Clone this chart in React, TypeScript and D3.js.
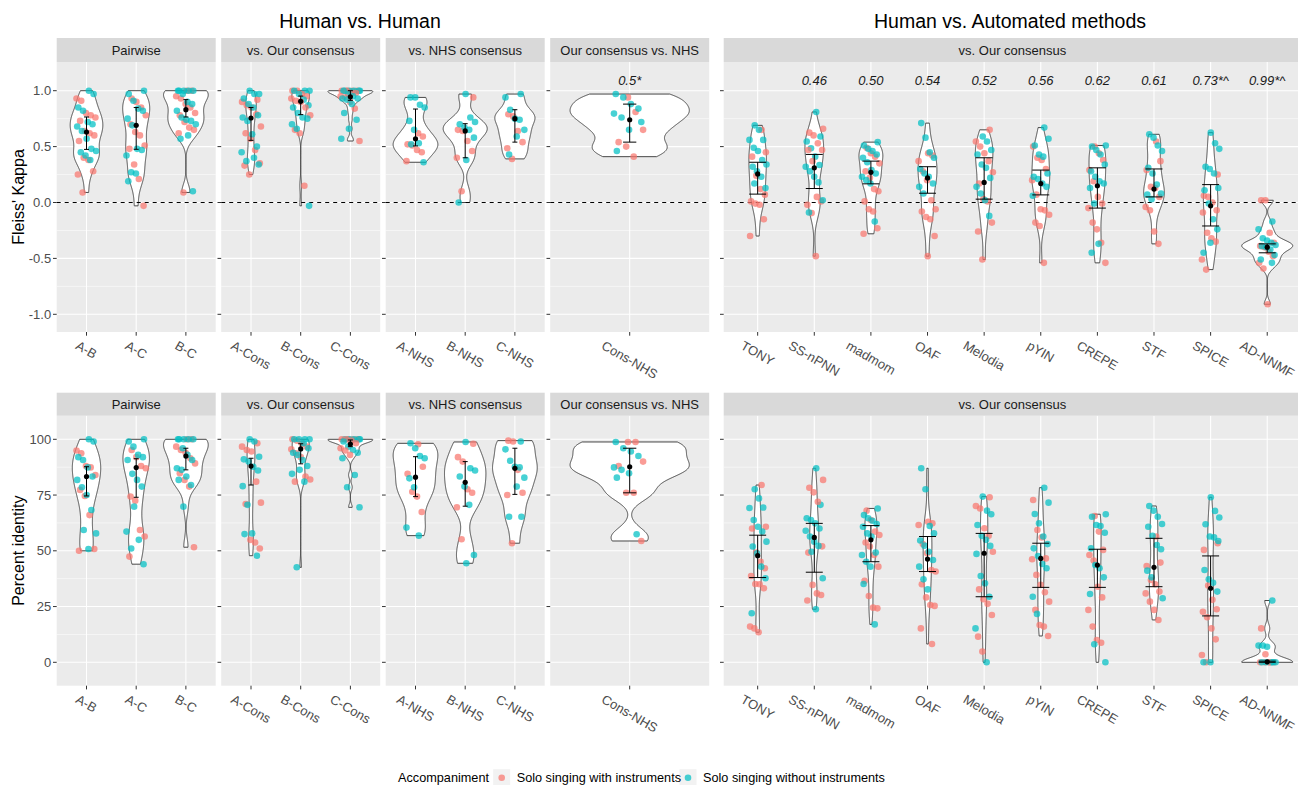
import React from "react";
import * as d3 from "d3";

const FONT = '"Liberation Sans", Arial, Helvetica, sans-serif';
const PINK = "#F8766D";
const TEAL = "#00BFC4";

// facets and their categories (in drawing order)
const facetTitles = ["Pairwise", "vs. Our consensus", "vs. NHS consensus", "Our consensus vs. NHS", "vs. Our consensus"];
const facetCats = [
  ["A-B", "A-C", "B-C"],
  ["A-Cons", "B-Cons", "C-Cons"],
  ["A-NHS", "B-NHS", "C-NHS"],
  ["Cons-NHS"],
  ["TONY", "SS-nPNN", "madmom", "OAF", "Melodia", "pYIN", "CREPE", "STF", "SPICE", "AD-NNMF"],
];
const groupTitles = ["Human vs. Human", "Human vs. Automated methods"];

// Fleiss' Kappa, solo singing with instruments (one list per category, same order as facetCats)
const kappaWith = [
  [0.93, 0.91, 0.8, 0.78, 0.76, 0.73, 0.64, 0.62, 0.6, 0.55, 0.4, 0.38, 0.28, 0.25, 0.09],
  [0.93, 0.9, 0.85, 0.78, 0.7, 0.63, 0.6, 0.51, 0.48, 0.34, 0.21, -0.03],
  [1.0, 1.0, 0.95, 0.93, 0.88, 0.85, 0.8, 0.78, 0.72, 0.67, 0.65, 0.62, 0.09],
  [0.92, 0.9, 0.87, 0.85, 0.79, 0.68, 0.62, 0.57, 0.47, 0.35, 0.33, 0.25],
  [1.0, 1.0, 0.97, 0.95, 0.93, 0.91, 0.9, 0.85, 0.78, 0.65, 0.62, 0.15],
  [1.0, 1.0, 1.0, 1.0, 1.0, 0.98, 0.98, 0.95, 0.94, 0.9, 0.84, 0.55],
  [0.62, 0.59, 0.52, 0.51, 0.47, 0.45, 0.37],
  [0.94, 0.65, 0.64, 0.55, 0.46, 0.4, 0.1],
  [0.79, 0.77, 0.64, 0.54, 0.485, 0.39],
  [0.94, 0.81, 0.65, 0.54, 0.5, 0.41],
  [0.65, 0.45, 0.41, 0.24, 0.12, 0.07, 0.01, -0.01, -0.02, -0.15, -0.3],
  [0.66, 0.625, 0.6, 0.53, 0.47, 0.47, 0.37, 0.05, 0.01, -0.02, -0.095, -0.48],
  [0.49, 0.44, 0.41, 0.35, 0.28, 0.22, 0.12, 0.1, 0.01, -0.06, -0.08, -0.23, -0.28],
  [0.44, 0.42, 0.37, 0.28, 0.2, 0.02, -0.06, -0.08, -0.13, -0.15, -0.3, -0.48],
  [0.65, 0.545, 0.5, 0.44, 0.37, 0.27, 0.17, 0.03, 0.01, -0.18, -0.26, -0.51],
  [0.5, 0.4, 0.38, 0.3, 0.2, 0.07, -0.06, -0.07, -0.11, -0.18, -0.21, -0.54],
  [0.5, 0.44, 0.38, 0.29, 0.19, 0.05, -0.01, -0.05, -0.18, -0.24, -0.36, -0.54],
  [0.545, 0.37, 0.29, 0.14, 0.13, 0.05, -0.04, -0.07, -0.26, -0.37],
  [0.25, 0.06, 0.05, 0.0, -0.07, -0.09, -0.27, -0.32, -0.35, -0.51, -0.6],
  [0.02, 0.02, -0.27, -0.36, -0.39, -0.4, -0.44, -0.48, -0.54, -0.59, -0.91],
];

// Fleiss' Kappa, solo singing without instruments
const kappaWithout = [
  [1.0, 0.97, 0.85, 0.82, 0.72, 0.7, 0.68, 0.64, 0.57, 0.48, 0.46, 0.45, 0.42, 0.38],
  [1.0, 0.97, 0.91, 0.84, 0.82, 0.75, 0.69, 0.48, 0.47, 0.42, 0.27, 0.26, 0.19],
  [1.0, 1.0, 1.0, 1.0, 1.0, 0.97, 0.9, 0.88, 0.82, 0.76, 0.74, 0.73, 0.7, 0.6, 0.57, 0.1],
  [1.0, 0.97, 0.97, 0.93, 0.88, 0.85, 0.78, 0.76, 0.73, 0.61, 0.5, 0.45, 0.4, 0.37, 0.34],
  [1.0, 1.0, 1.0, 0.97, 0.92, 0.87, 0.85, 0.8, 0.76, 0.75, 0.7, 0.66, -0.03],
  [1.0, 1.0, 1.0, 1.0, 1.0, 1.0, 0.97, 0.95, 0.93, 0.93, 0.92, 0.88, 0.8, 0.74, 0.66, 0.57],
  [0.94, 0.94, 0.875, 0.85, 0.73, 0.65, 0.53, 0.52, 0.36],
  [0.97, 0.76, 0.72, 0.7, 0.67, 0.65, 0.58, 0.38, 0.0],
  [0.97, 0.94, 0.83, 0.75, 0.74, 0.65, 0.59, 0.43],
  [0.97, 0.94, 0.88, 0.84, 0.795, 0.76, 0.72, 0.65, 0.46],
  [0.69, 0.65, 0.56, 0.56, 0.49, 0.46, 0.38, 0.34, 0.32, 0.28, 0.23, 0.17, 0.13],
  [0.81, 0.59, 0.545, 0.485, 0.41, 0.335, 0.32, 0.28, 0.23, 0.18, 0.02, -0.09],
  [0.54, 0.51, 0.48, 0.46, 0.43, 0.4, 0.36, 0.29, 0.26, 0.23, 0.2, 0.17, -0.17],
  [0.71, 0.58, 0.45, 0.4, 0.3, 0.26, 0.23, 0.17, 0.14, 0.08],
  [0.59, 0.545, 0.47, 0.43, 0.34, 0.31, 0.22, 0.14, 0.08, 0.02, -0.12],
  [0.67, 0.57, 0.51, 0.43, 0.41, 0.26, 0.23, 0.21, 0.17, 0.14, 0.06],
  [0.51, 0.5, 0.47, 0.43, 0.34, 0.28, 0.23, 0.19, 0.17, 0.13, -0.01, -0.37, -0.45],
  [0.61, 0.58, 0.51, 0.46, 0.31, 0.26, 0.16, 0.08, 0.07, 0.03],
  [0.625, 0.53, 0.48, 0.32, 0.3, 0.26, 0.13, 0.11, -0.01, -0.15, -0.24, -0.36, -0.45],
  [-0.17, -0.24, -0.32, -0.34, -0.36, -0.38, -0.39, -0.4, -0.42, -0.47, -0.51, -0.54],
];

const kappaMean = [0.63, 0.69, 0.83, 0.756, 0.905, 0.946, 0.57, 0.64, 0.75, 0.74, 0.256, 0.31, 0.27, 0.22, 0.18, 0.17, 0.15, 0.12, -0.03, -0.4];
const kappaLo = [0.475, 0.476, 0.765, 0.556, 0.786, 0.914, 0.506, 0.4, 0.54, 0.54, 0.075, 0.125, 0.167, 0.083, 0.03, 0.068, -0.05, 0.05, -0.21, -0.45];
const kappaHi = [0.765, 0.85, 0.92, 0.85, 0.952, 1.0, 0.836, 0.705, 0.83, 0.88, 0.36, 0.43, 0.37, 0.32, 0.4, 0.29, 0.31, 0.3, 0.16, -0.37];
const kappaNotes = ["", "", "", "", "", "", "", "", "", "0.5*", "", "0.46", "0.50", "0.54", "0.52", "0.56", "0.62", "0.61", "0.73*^", "0.99*^"];

// Percent identity, solo singing with instruments
const pctWith = [
  [95, 93.7, 88, 87.4, 84, 77.3, 74.6, 66, 50.8, 50],
  [95.2, 92, 88, 87, 74.3, 72.5, 59.3, 56.4, 47.4],
  [100, 100, 96.7, 95.2, 94, 91.5, 89.2, 84.8, 81.8, 78.8, 51.6],
  [98.2, 96.7, 95.2, 94.5, 81, 71.6, 71, 54.9, 53.7, 51],
  [100, 99.4, 98, 96.7, 95.5, 93.7, 92, 83.3, 82, 81],
  [100, 100, 100, 100, 100, 99.4, 98.2, 96, 95, 93],
  [97.8, 87.7, 84.5, 76.5, 74.3, 67.4],
  [98, 92, 90, 77.6, 76, 69.5, 55.2],
  [99.4, 99, 86.3, 76, 75, 53.4],
  [98.8, 98.8, 90, 88, 76, 76, 54.4],
  [79.5, 60.8, 60, 49.2, 45.1, 42.2, 38.7, 35.1, 35, 33.2, 16, 15.2, 13.5],
  [81.8, 78.3, 76.2, 72, 52, 49.2, 34.7, 30.9, 30.2, 27.7],
  [68, 63.8, 58.6, 57.1, 53.7, 51.9, 48.1, 42.9, 36.5, 29.7, 24.5, 24.2],
  [63, 62.3, 61.6, 53, 48.9, 41.4, 40.7, 35, 29.1, 25.7, 25.3, 15.2, 8.2],
  [74, 70.1, 69, 60.1, 56.7, 49.6, 32.7, 28.3, 26.2, 21.2, 11.5, 4.8],
  [72.8, 59.3, 56, 46.6, 46.2, 39.2, 34.7, 31.4, 27.2, 23.5, 16.7, 16, 11.8],
  [65.6, 58.6, 50.4, 48.1, 45.6, 33.9, 29.1, 23.5, 16, 10, 8.8],
  [56.4, 44.7, 43.2, 36.9, 35, 31.7, 30.9, 27.2, 23.5, 19],
  [53.4, 50.4, 34.4, 28, 23.8, 22.7, 20.2, 15.2, 10.3, 3.3, 0],
  [15.2, 3.6, 0, 0, 0, 0, 0],
];

// Percent identity, solo singing without instruments
const pctWithout = [
  [100, 99, 92, 90.7, 87.4, 83.3, 81.8, 78.5, 75, 68.3, 59.3, 57.8, 50.8],
  [100, 99, 96.7, 93, 92, 90.7, 84.5, 81.8, 78.8, 69.8, 58.6, 54.9, 51, 44],
  [100, 100, 100, 100, 100, 96, 93, 90.7, 87, 86.3, 83.3, 81.8, 79.5, 69.8],
  [100, 99, 92.2, 91, 90, 87.7, 86, 79, 70.6, 57.8, 57.5, 47.8],
  [100, 100, 100, 100, 98.2, 96, 94, 93, 90.7, 88, 86.3, 84.5, 81, 42.6],
  [100, 100, 100, 100, 100, 99, 96.7, 95.2, 94, 91.5, 84, 78.5, 69.5],
  [98.2, 96, 92.5, 91.5, 82.5, 78.5, 60.4, 56.8],
  [98.8, 87, 86, 83.3, 78.8, 70.6, 48.1, 44.4],
  [99, 95.5, 90.4, 87.7, 87.4, 82.8, 78.8, 65.3, 65.3],
  [98.8, 96, 94.5, 92.5, 87.4, 86.3, 84.8, 82.8, 57.4],
  [77.6, 73.5, 69.4, 69.2, 63.8, 60.8, 58.6, 54.1, 51.9, 48.9, 42.9, 37.7, 22],
  [87, 70.6, 64.6, 63.8, 62.3, 60, 59, 56.4, 54.1, 52.2, 49.6, 37.7, 23.8],
  [69, 66, 64.6, 63.5, 62, 60.8, 57.8, 56.4, 49.2, 48.1, 45.1, 42.9, 35.1, 17],
  [87, 77.6, 61.1, 57.8, 54.6, 52.3, 49.6, 45.9, 42.9, 37.2, 32.7],
  [74.3, 68, 66.4, 61.6, 56.7, 54.9, 52.2, 48.6, 38.7, 35.4, 29.4, 15.2, 0],
  [78.3, 71.6, 66.5, 62.3, 56.4, 53, 51.1, 47.7, 44.1, 42.2, 29.4, 21.7],
  [66.4, 65.3, 61.6, 61.1, 58.1, 51.1, 43.6, 42.2, 38.1, 30.6, 8.1, 0],
  [70.1, 68, 65.3, 62, 60.8, 56.7, 52.6, 50.7, 41.1, 38.1, 28.7],
  [74, 67.9, 64.9, 61.9, 56.4, 56, 54.4, 41.4, 37.2, 35.7, 31.7, 0, 0],
  [27.7, 7.5, 7.5, 7, 0, 0, 0, 0, 0],
];

const pctMean = [83.3, 87.3, 92.5, 88, 95.7, 97.9, 83, 80.7, 87, 87.7, 47.8, 56, 54.9, 46.3, 48.9, 46.6, 43.6, 42.6, 33.2, 0.2];
const pctLo = [74.6, 74, 86.3, 79.5, 89, 96.7, 74.3, 70, 75.3, 76, 38, 40.4, 45.1, 40.7, 29.4, 33.6, 33.6, 33.9, 20.8, 0];
const pctHi = [87.7, 91.3, 96, 91.5, 98, 99.7, 92.2, 90, 96, 96, 57, 62.3, 61.3, 56.4, 57.8, 53.4, 50.7, 55.6, 47.7, 0.5];
const pctNotes = facetCats.flat().map(() => "");

const kappaTicks = [-1, -0.5, 0, 0.5, 1];
const kappaMinor = [-0.75, -0.25, 0.25, 0.75];
const pctTicks = [0, 25, 50, 75, 100];
const pctMinor = [12.5, 37.5, 62.5, 87.5];

const legendTitle = "Accompaniment";
const legendLabels = ["Solo singing with instruments", "Solo singing without instruments"];

// gaussian kde with R's bw.nrd0 (scaled by adjust), trimmed to data range like geom_violin
function kde(vals: number[], adjust = 0.75) {
  const s = [...vals].sort((a, b) => a - b);
  const n = s.length;
  const sd = d3.deviation(s) || 0;
  const iqr = (d3.quantileSorted(s, 0.75) || 0) - (d3.quantileSorted(s, 0.25) || 0);
  let lo = Math.min(sd, iqr / 1.34);
  if (!lo) lo = sd || Math.abs(s[0]) || 1;
  const bw = adjust * 0.9 * lo * Math.pow(n, -0.2);
  const a = s[0], b = s[n - 1];
  const out: [number, number][] = [];
  const m = 300;
  for (let i = 0; i < m; i++) {
    const t = a + ((b - a) * i) / (m - 1);
    let sum = 0;
    for (const x of s) {
      const z = (t - x) / bw;
      sum += Math.exp(-0.5 * z * z);
    }
    out.push([t, sum / (n * bw * Math.sqrt(2 * Math.PI))]);
  }
  return out;
}

let measureCtx: CanvasRenderingContext2D | null = null;
function textW(s: string) {
  if (!measureCtx) measureCtx = document.createElement("canvas").getContext("2d");
  if (!measureCtx) return s.length * 7;
  measureCtx.font = `13px ${FONT}`;
  return measureCtx.measureText(s).width;
}

const panelX = (i: number): [number, number] => (i < 4 ? [56.7 + i * 164.5, 159] : [723.7, 577.5]);
const offsets = [0, 3, 6, 9, 10];

function Row({ row }: { row: any }) {
  const { stripTop, top, bottom, y } = row;
  const els: React.ReactNode[] = [];
  facetCats.forEach((cats, p) => {
    const [x0, w] = panelX(p);
    const x = d3.scalePoint<string>().domain(cats).range([x0, x0 + w]).padding(0.6);
    const step = x.step();
    const jit = p === 3 ? 16 : p === 4 ? 9 : 10;
    const barHalf = (p === 4 ? 0.3 : 0.1) * step / 2;
    const dens = cats.map((_, j) => kde(row.withV[offsets[p] + j].concat(row.withoutV[offsets[p] + j])));
    const maxD = d3.max(dens.flat(), (d) => d[1]) || 1;
    const key = `${row.name}-${p}`;
    // background + grid
    els.push(<rect key={key + "bg"} x={x0} y={top} width={w} height={bottom - top} fill="#ebebeb" />);
    row.minor.forEach((t: number) => (
      els.push(<line key={key + "mi" + t} x1={x0} x2={x0 + w} y1={y(t)} y2={y(t)} stroke="#fff" strokeWidth={0.55} />)
    ));
    row.ticks.forEach((t: number) => (
      els.push(<line key={key + "ma" + t} x1={x0} x2={x0 + w} y1={y(t)} y2={y(t)} stroke="#fff" strokeWidth={1.07} />)
    ));
    cats.forEach((c) => els.push(
      <line key={key + "v" + c} x1={x(c)} x2={x(c)} y1={top} y2={bottom} stroke="#fff" strokeWidth={1.07} />
    ));
    // strip
    els.push(<rect key={key + "st"} x={x0} y={stripTop} width={w} height={top - stripTop} fill="#d9d9d9" />);
    els.push(
      <text key={key + "stt"} x={x0 + w / 2} y={(stripTop + top) / 2} dy="0.35em" textAnchor="middle"
        fontSize={13} fill="#1a1a1a" fontFamily={FONT}>{facetTitles[p]}</text>
    );
    // violins
    cats.forEach((c, j) => {
      const cx = x(c) as number;
      const half = (d: number) => (d / maxD) * 0.45 * step;
      const area = d3.area<[number, number]>()
        .y((d) => y(d[0]))
        .x0((d) => cx - half(d[1]))
        .x1((d) => cx + half(d[1]));
      els.push(<path key={key + "vio" + c} d={area(dens[j]) || ""} fill="#fff" stroke="#333" strokeWidth={0.9} />);
    });
    if (row.hline) {
      els.push(<line key={key + "h0"} x1={x0} x2={x0 + w} y1={y(0)} y2={y(0)} stroke="#000" strokeWidth={1} strokeDasharray="4 4" />);
    }
    // jittered points
    cats.forEach((c, j) => {
      const g = offsets[p] + j;
      const a: number[] = row.withV[g], b: number[] = row.withoutV[g];
      const pts: { v: number; col: string }[] = [];
      for (let k = 0; k < Math.max(a.length, b.length); k++) {
        if (k < a.length) pts.push({ v: a[k], col: PINK });
        if (k < b.length) pts.push({ v: b[k], col: TEAL });
      }
      pts.forEach((pt, k) => {
        const off = (((k * 0.6180339887 + g * 0.2718) % 1) * 2 - 1) * jit;
        els.push(
          <circle key={key + "pt" + c + k} cx={(x(c) as number) + off} cy={y(pt.v)} r={3.3} fill={pt.col} fillOpacity={0.72} />
        );
      });
    });
    // error bars + means
    cats.forEach((c, j) => {
      const g = offsets[p] + j;
      const cx = x(c) as number;
      const yl = y(row.lo[g]), yh = y(row.hi[g]);
      els.push(
        <g key={key + "eb" + c} stroke="#000" strokeWidth={1}>
          <line x1={cx} x2={cx} y1={yl} y2={yh} />
          <line x1={cx - barHalf} x2={cx + barHalf} y1={yl} y2={yl} />
          <line x1={cx - barHalf} x2={cx + barHalf} y1={yh} y2={yh} />
        </g>
      );
      els.push(<circle key={key + "mn" + c} cx={cx} cy={y(row.mean[g])} r={2.6} fill="#000" />);
      if (row.notes[g]) {
        els.push(
          <text key={key + "nt" + c} x={cx} y={top + 23} textAnchor="middle" fontSize={13} fontStyle="italic"
            fill="#1a1a1a" fontFamily={FONT}>{row.notes[g]}</text>
        );
      }
    });
    // x axis ticks + rotated labels
    cats.forEach((c) => {
      const cx = x(c) as number;
      const tw = textW(c);
      const cy = bottom + 7.5 + (tw * 0.5 + 11 * 0.866) / 2;
      els.push(<line key={key + "xt" + c} x1={cx} x2={cx} y1={bottom} y2={bottom + 3.7} stroke="#333" strokeWidth={1} />);
      els.push(
        <text key={key + "xl" + c} x={cx} y={cy} dy="0.35em" textAnchor="middle" fontSize={13} fill="#4d4d4d"
          fontFamily={FONT} transform={`rotate(30 ${cx} ${cy})`}>{c}</text>
      );
    });
    // y axis ticks
    const axX = x0;
    row.ticks.forEach((t: number, i: number) => {
      els.push(<line key={key + "yt" + t} x1={axX - 3.7} x2={axX} y1={y(t)} y2={y(t)} stroke="#333" strokeWidth={1} />);
      if (p === 0) {
        els.push(
          <text key={key + "yl" + t} x={axX - 5.5} y={y(t)} dy="0.35em" textAnchor="end" fontSize={13} fill="#4d4d4d"
            fontFamily={FONT}>{row.tickLabels[i]}</text>
        );
      }
    });
  });
  const midY = (top + bottom) / 2;
  els.push(
    <text key={row.name + "yt"} x={18.5} y={midY} dy="0.35em" textAnchor="middle" fontSize={16} fill="#000"
      fontFamily={FONT} transform={`rotate(-90 18.5 ${midY})`}>{row.yTitle}</text>
  );
  return <g>{els}</g>;
}

export default function App() {
  const rows = [
    {
      name: "kappa", stripTop: 38, top: 62, bottom: 332,
      y: d3.scaleLinear().domain([-1, 1]).range([314.3, 90.7]),
      ticks: kappaTicks, tickLabels: kappaTicks.map((t) => d3.format(".1f")(t).replace("−", "-")), minor: kappaMinor,
      withV: kappaWith, withoutV: kappaWithout, mean: kappaMean, lo: kappaLo, hi: kappaHi, notes: kappaNotes,
      hline: true, yTitle: "Fleiss' Kappa",
    },
    {
      name: "pct", stripTop: 392.7, top: 415.7, bottom: 685.7,
      y: d3.scaleLinear().domain([0, 100]).range([662.3, 439.3]),
      ticks: pctTicks, tickLabels: pctTicks.map(String), minor: pctMinor,
      withV: pctWith, withoutV: pctWithout, mean: pctMean, lo: pctLo, hi: pctHi, notes: pctNotes,
      hline: false, yTitle: "Percent identity",
    },
  ];
  const legendY = 777.7;
  const keyX = [501.7, 688];
  return (
    <svg width={1298} height={785} style={{ position: "absolute", left: 0, top: 0, background: "#fff" }}>
      <rect width={1298} height={785} fill="#fff" />
      <text x={360} y={28} textAnchor="middle" fontSize={19.5} fill="#000" fontFamily={FONT}>{groupTitles[0]}</text>
      <text x={1010} y={28} textAnchor="middle" fontSize={19.5} fill="#000" fontFamily={FONT}>{groupTitles[1]}</text>
      {rows.map((r) => <Row key={r.name} row={r} />)}
      <g fontFamily={FONT} fontSize={12.7}>
        <text x={398} y={legendY} dy="0.35em" fill="#000">{legendTitle}</text>
        {keyX.map((kx, i) => (
          <rect key={"lk" + i} x={kx - 8.5} y={legendY - 8.5} width={17} height={17} fill="#f2f2f2" />
        ))}
        {[PINK, TEAL].map((c, i) => (
          <g key={c}>
            <circle cx={keyX[i]} cy={legendY} r={3.3} fill={c} fillOpacity={0.72} />
            <text x={keyX[i] + 15} y={legendY} dy="0.35em" fill="#000">{legendLabels[i]}</text>
          </g>
        ))}
      </g>
    </svg>
  );
}
